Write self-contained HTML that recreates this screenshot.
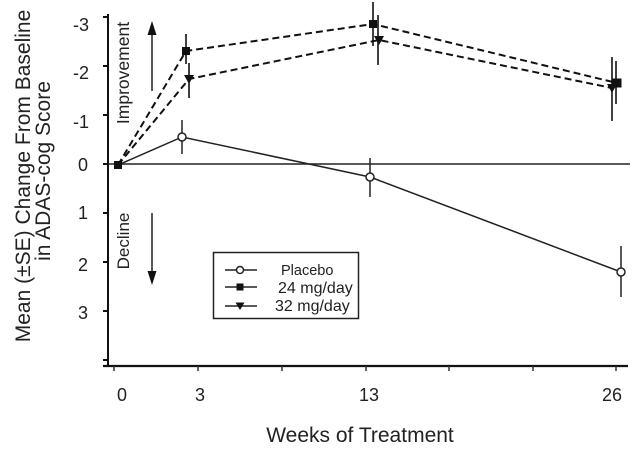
<!DOCTYPE html>
<html><head><meta charset="utf-8"><style>
html,body{margin:0;padding:0;background:#fff;}
svg{display:block;}
text{font-family:"Liberation Sans",Arial,sans-serif;fill:#222;}
</style></head><body>
<svg width="632" height="450" viewBox="0 0 632 450" xmlns="http://www.w3.org/2000/svg">
<rect x="0" y="0" width="632" height="450" fill="#fff"/>
<!-- axes -->
<line x1="108" y1="14" x2="108" y2="367" stroke="#111" stroke-width="2"/>
<line x1="103" y1="366" x2="628" y2="366" stroke="#111" stroke-width="2.2"/>
<!-- y ticks -->
<g stroke="#111" stroke-width="2">
<line x1="103" y1="17" x2="108" y2="17"/>
<line x1="103" y1="66" x2="108" y2="66"/>
<line x1="103" y1="115" x2="108" y2="115"/>
<line x1="103" y1="164" x2="108" y2="164"/>
<line x1="103" y1="213" x2="108" y2="213"/>
<line x1="103" y1="262" x2="108" y2="262"/>
<line x1="103" y1="311" x2="108" y2="311"/>
<line x1="103" y1="360" x2="108" y2="360"/>
</g>
<!-- x ticks -->
<g stroke="#333" stroke-width="1.5">
<line x1="114" y1="366" x2="114" y2="371"/>
<line x1="198" y1="366" x2="198" y2="371"/>
<line x1="282" y1="366" x2="282" y2="371"/>
<line x1="366" y1="366" x2="366" y2="371"/>
<line x1="449" y1="366" x2="449" y2="371"/>
<line x1="533" y1="366" x2="533" y2="371"/>
<line x1="616" y1="366" x2="616" y2="371"/>
</g>
<!-- zero line -->
<line x1="108" y1="164" x2="630" y2="164" stroke="#222" stroke-width="1.5"/>
<!-- y tick labels -->
<g font-size="18" text-anchor="end">
<text x="89" y="31">-3</text>
<text x="89" y="79">-2</text>
<text x="89" y="128">-1</text>
<text x="88" y="171">0</text>
<text x="88" y="219">1</text>
<text x="88" y="271">2</text>
<text x="88" y="319">3</text>
</g>
<!-- x tick labels -->
<g font-size="18" text-anchor="middle">
<text x="122" y="401">0</text>
<text x="200" y="401">3</text>
<text x="369" y="401">13</text>
<text x="612" y="401">26</text>
</g>
<!-- axis titles -->
<text x="360" y="442" font-size="21" text-anchor="middle">Weeks of Treatment</text>
<text transform="translate(30,176) rotate(-90)" font-size="21" text-anchor="middle">Mean (±SE) Change From Baseline</text>
<text transform="translate(50,171) rotate(-90)" font-size="21" text-anchor="middle">in ADAS-cog Score</text>
<!-- Improvement / Decline -->
<text transform="translate(129,73) rotate(-90)" font-size="17.5" text-anchor="middle">Improvement</text>
<text transform="translate(129,241) rotate(-90)" font-size="17" text-anchor="middle">Decline</text>
<line x1="152" y1="91" x2="152" y2="32" stroke="#222" stroke-width="1.5"/>
<polygon points="152,21 147.5,35 156.5,35" fill="#111"/>
<line x1="152" y1="213" x2="152" y2="273" stroke="#222" stroke-width="1.5"/>
<polygon points="152,285 147.5,271 156.5,271" fill="#111"/>
<!-- placebo -->
<polyline points="118,165 182,137 370,177 621,272" fill="none" stroke="#222" stroke-width="1.5"/>
<g stroke="#222" stroke-width="1.5">
<line x1="182" y1="120" x2="182" y2="154"/>
<line x1="370" y1="158" x2="370" y2="197"/>
<line x1="621" y1="246" x2="621" y2="297"/>
</g>
<g fill="#fff" stroke="#222" stroke-width="1.5">
<circle cx="182" cy="137" r="4"/>
<circle cx="370" cy="177" r="4"/>
<circle cx="621" cy="272" r="4"/>
</g>
<!-- 24 mg/day -->
<polyline points="118,165 186,51 373,24 617,83" fill="none" stroke="#111" stroke-width="2" stroke-dasharray="7,4"/>
<g stroke="#111" stroke-width="1.6">
<line x1="186" y1="34" x2="186" y2="64"/>
<line x1="373" y1="2" x2="373" y2="46"/>
<line x1="616" y1="61" x2="616" y2="104"/>
</g>
<g fill="#111">
<rect x="114" y="161" width="8" height="8"/>
<rect x="182" y="47" width="8" height="8"/>
<rect x="369" y="20" width="8" height="8"/>
<rect x="612.5" y="78.5" width="9" height="9"/>
</g>
<!-- 32 mg/day -->
<polyline points="118,165 189,79 379,40 612,88" fill="none" stroke="#111" stroke-width="2" stroke-dasharray="7,4"/>
<g stroke="#111" stroke-width="1.6">
<line x1="189" y1="63" x2="189" y2="98"/>
<line x1="378" y1="15" x2="378" y2="65"/>
<line x1="612" y1="57" x2="612" y2="121"/>
</g>
<g fill="#111">
<polygon points="184,75 194,75 189,84"/>
<polygon points="374,36 384,36 379,45"/>
<polygon points="607,84 617,84 612,93"/>
</g>
<!-- legend -->
<rect x="213.5" y="252.5" width="145" height="66" fill="#fff" stroke="#222" stroke-width="1.5"/>
<g stroke="#222" stroke-width="1.5">
<line x1="225" y1="270" x2="257" y2="270"/>
<line x1="225" y1="287" x2="257" y2="287"/>
<line x1="225" y1="306" x2="257" y2="306"/>
</g>
<circle cx="240" cy="270" r="3.5" fill="#fff" stroke="#222" stroke-width="1.5"/>
<rect x="236.5" y="283.5" width="7" height="7" fill="#111"/>
<polygon points="235.5,302.5 244.5,302.5 240,310" fill="#111"/>
<text x="281" y="275" font-size="14.5">Placebo</text>
<text x="278" y="293" font-size="16">24 mg/day</text>
<text x="275" y="311" font-size="16">32 mg/day</text>
</svg>
</body></html>
